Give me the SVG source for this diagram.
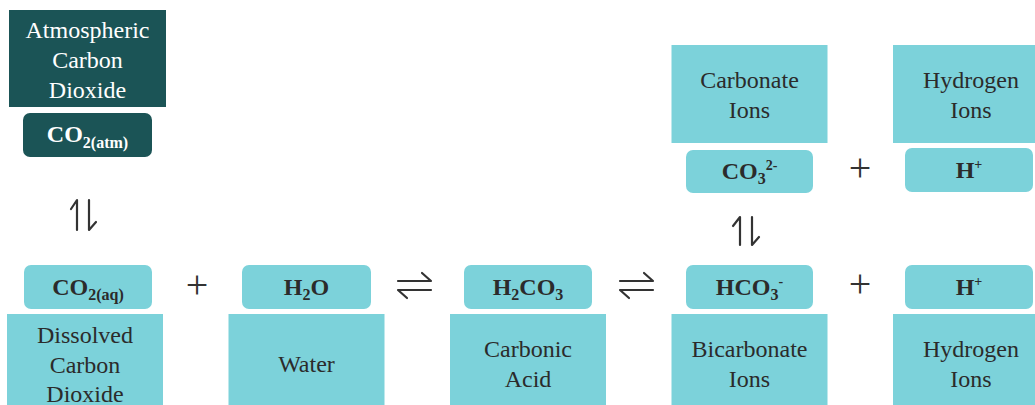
<svg xmlns="http://www.w3.org/2000/svg" width="1035" height="405" viewBox="0 0 1035 405">
<style>
.big{fill:#7cd2da}
.pill{fill:#7cd2da}
.dark{fill:#1b5456}
.lbl{font-family:"Liberation Serif",serif;font-size:24px;fill:#2b2b2b;text-anchor:middle}
.lblw{font-family:"Liberation Serif",serif;font-size:24px;fill:#ffffff;text-anchor:middle}
.f{font-family:"Liberation Serif",serif;font-size:24px;font-weight:bold;fill:#2b2b2b;text-anchor:middle}
.fw{font-family:"Liberation Serif",serif;font-size:24px;font-weight:bold;fill:#ffffff;text-anchor:middle}
.plus{font-family:"Liberation Serif",serif;font-size:40px;fill:#333333;text-anchor:middle}
.arr{fill:none;stroke:#333333;stroke-width:2.2;stroke-linecap:round;stroke-linejoin:round}
</style>
<rect width="1035" height="405" fill="#ffffff"/>

<g id="atm">
<rect class="dark" x="9" y="10" width="157" height="97"/>
<text class="lblw" x="87.5" y="38">Atmospheric</text>
<text class="lblw" x="87.5" y="68">Carbon</text>
<text class="lblw" x="87.5" y="98">Dioxide</text>
<rect class="dark" x="23" y="113" width="129" height="44" rx="7"/>
<text class="fw" x="87.5" y="142">CO<tspan font-size="16" dy="6">2(atm)</tspan></text>
</g>

<g id="co2aq">
<rect class="pill" x="24" y="265" width="128" height="44" rx="7"/>
<text class="f" x="88" y="295">CO<tspan font-size="16" dy="5">2(aq)</tspan></text>
<rect class="big" x="7" y="314" width="156" height="100"/>
<text class="lbl" x="85" y="343">Dissolved</text>
<text class="lbl" x="85" y="373">Carbon</text>
<text class="lbl" x="85" y="402">Dioxide</text>
</g>

<g id="h2o">
<rect class="pill" x="242" y="265" width="129" height="44" rx="7"/>
<text class="f" x="306.5" y="295">H<tspan font-size="16" dy="5">2</tspan><tspan dy="-5">O</tspan></text>
<rect class="big" x="228.5" y="314" width="156" height="100"/>
<text class="lbl" x="306.5" y="372">Water</text>
</g>

<g id="h2co3">
<rect class="pill" x="464" y="265" width="128" height="44" rx="7"/>
<text class="f" x="528" y="295">H<tspan font-size="16" dy="5">2</tspan><tspan dy="-5">CO</tspan><tspan font-size="16" dy="5">3</tspan></text>
<rect class="big" x="450" y="314" width="156" height="100"/>
<text class="lbl" x="528" y="357">Carbonic</text>
<text class="lbl" x="528" y="387">Acid</text>
</g>

<g id="hco3">
<rect class="pill" x="686" y="265" width="127" height="44" rx="7"/>
<text class="f" x="749.5" y="295">HCO<tspan font-size="16" dy="5">3</tspan><tspan font-size="14" dy="-14">-</tspan></text>
<rect class="big" x="671.5" y="314" width="156" height="100"/>
<text class="lbl" x="749.5" y="357">Bicarbonate</text>
<text class="lbl" x="749.5" y="387">Ions</text>
</g>

<g id="hplus">
<rect class="pill" x="905" y="265" width="128" height="44" rx="7"/>
<text class="f" x="969" y="295">H<tspan font-size="14" dy="-9">+</tspan></text>
<rect class="big" x="893" y="314" width="156" height="100"/>
<text class="lbl" x="971" y="357">Hydrogen</text>
<text class="lbl" x="971" y="387">Ions</text>
</g>

<g id="co3">
<rect class="big" x="671.5" y="45" width="156" height="98"/>
<text class="lbl" x="749.5" y="88">Carbonate</text>
<text class="lbl" x="749.5" y="118">Ions</text>
<rect class="pill" x="686" y="150" width="127" height="43" rx="7"/>
<text class="f" x="749.5" y="179">CO<tspan font-size="16" dy="5">3</tspan><tspan font-size="14" dy="-14">2-</tspan></text>
</g>

<g id="hplus-top">
<rect class="big" x="893" y="45" width="156" height="98"/>
<text class="lbl" x="971" y="88">Hydrogen</text>
<text class="lbl" x="971" y="118">Ions</text>
<rect class="pill" x="905" y="148" width="128" height="44" rx="7"/>
<text class="f" x="969" y="178">H<tspan font-size="14" dy="-9">+</tspan></text>
</g>

<g id="connectors">
<text class="plus" x="197" y="298">+</text>
<text class="plus" x="860" y="297">+</text>
<text class="plus" x="860" y="181">+</text>
<path class="arr" d="M77 230V200L71 209M89 200V230L96 222"/>
<path class="arr" d="M740 245V217L733 226M752 217V245L759 237"/>
<path class="arr" d="M398 281H431L422 273M431 290H398L407 298"/>
<path class="arr" d="M620 281H653L644 273M653 290H620L629 298"/>
</g>
</svg>
